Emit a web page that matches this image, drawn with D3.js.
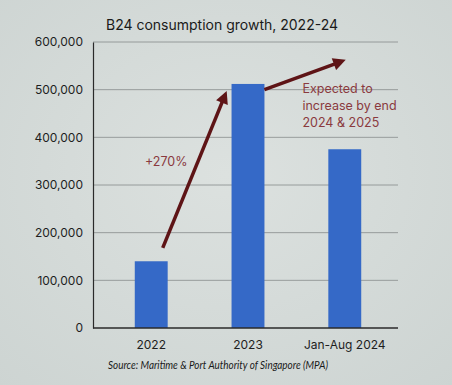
<!DOCTYPE html>
<html>
<head>
<meta charset="utf-8">
<script src="https://cdn.jsdelivr.net/npm/d3@7"></script>
<style>
  body { margin: 0; background: #d4dad8; }
  svg { display: block; }
</style>
</head>
<body>
<svg id="chart"></svg>
<script>
// Chart data
const categories = ['2022', '2023', 'Jan-Aug 2024'];
const consumption = [140000, 512000, 375000];
const yTicks = [0, 100000, 200000, 300000, 400000, 500000, 600000];

// Annotation arrows, given in data terms (category + offset in bands, value)
const arrows = [
  { from: { cat: '2022', off: 0.35, value: 168000 }, to: { cat: '2023', off: -0.72, value: 485000 } },
  { from: { cat: '2023', off: 0.5, value: 500000 }, to: { cat: 'Jan-Aug 2024', off: -0.15, value: 558000 } }
];
const growthLabel = '+270%';
const expectedLines = ['Expected to', 'increase by end', '2024 & 2025'];

const W = 452, H = 385;
const margin = { top: 42, right: 54, bottom: 57, left: 93 };

const svg = d3.select('#chart').attr('width', W).attr('height', H);

// Background, slightly uneven like the projected slide
const defs = svg.append('defs');
const grad = defs.append('radialGradient').attr('id', 'bg').attr('cx', '50%').attr('cy', '45%').attr('r', '75%');
grad.append('stop').attr('offset', '0%').attr('stop-color', '#dce1df');
grad.append('stop').attr('offset', '100%').attr('stop-color', '#cdd4d2');
svg.append('rect').attr('width', W).attr('height', H).attr('fill', 'url(#bg)');

defs.append('marker')
  .attr('id', 'head')
  .attr('viewBox', '0 0 10 10')
  .attr('refX', 5).attr('refY', 5)
  .attr('markerWidth', 4).attr('markerHeight', 3.6)
  .attr('orient', 'auto')
  .append('path')
  .attr('d', 'M0,0 L10,5 L0,10 z')
  .attr('fill', '#5e1416');

const x = d3.scaleBand()
  .domain(categories)
  .range([margin.left + 5, W - margin.right])
  .paddingInner(0.66)
  .paddingOuter(0.38);

const y = d3.scaleLinear()
  .domain([0, 600000])
  .range([H - margin.bottom, margin.top]);

// Gridlines
svg.append('g')
  .selectAll('line')
  .data(yTicks.filter(d => d > 0))
  .join('line')
  .attr('x1', margin.left)
  .attr('x2', W - margin.right)
  .attr('y1', d => y(d))
  .attr('y2', d => y(d))
  .attr('stroke', '#868c8b')
  .attr('stroke-width', 0.8);

// Y axis
const yAxis = svg.append('g')
  .attr('transform', `translate(${margin.left},0)`)
  .call(d3.axisLeft(y).tickValues(yTicks).tickFormat(d3.format(',')).tickSize(0).tickPadding(10));
yAxis.select('.domain').attr('stroke', '#2a2a2a').attr('stroke-width', 1.2);
yAxis.selectAll('text')
  .attr('font-family', 'Inter, "Noto Sans", sans-serif')
  .attr('font-size', 12)
  .attr('fill', '#1e1e1e');

// Bars
svg.append('g')
  .selectAll('rect')
  .data(categories)
  .join('rect')
  .attr('x', d => x(d))
  .attr('width', x.bandwidth())
  .attr('y', (d, i) => y(consumption[i]))
  .attr('height', (d, i) => y(0) - y(consumption[i]))
  .attr('fill', '#3569c7');

// X axis
const xAxis = svg.append('g')
  .attr('transform', `translate(0,${y(0)})`)
  .call(d3.axisBottom(x).tickSize(0).tickPadding(12));
xAxis.select('.domain')
  .attr('d', `M${margin.left},0H${W - margin.right}`)
  .attr('stroke', '#2a2a2a').attr('stroke-width', 1.4);
xAxis.selectAll('text')
  .attr('font-family', 'Inter, "Noto Sans", sans-serif')
  .attr('font-size', 12)
  .attr('fill', '#1e1e1e');

// Arrows
const px = p => x(p.cat) + x.bandwidth() / 2 + p.off * x.bandwidth();
svg.append('g')
  .selectAll('line')
  .data(arrows)
  .join('line')
  .attr('x1', d => px(d.from))
  .attr('y1', d => y(d.from.value))
  .attr('x2', d => px(d.to))
  .attr('y2', d => y(d.to.value))
  .attr('stroke', '#5e1416')
  .attr('stroke-width', 3.5)
  .attr('marker-end', 'url(#head)');

// Annotations
svg.append('text')
  .attr('x', x('2022') + x.bandwidth() / 2 + 15)
  .attr('y', y(340000))
  .attr('text-anchor', 'middle')
  .attr('font-family', 'Inter, "Noto Sans", sans-serif')
  .attr('font-size', 12.5)
  .attr('fill', '#8a3a3e')
  .text(growthLabel);

svg.append('text')
  .attr('font-family', 'Inter, "Noto Sans", sans-serif')
  .attr('font-size', 12.5)
  .attr('fill', '#8a3a3e')
  .selectAll('tspan')
  .data(expectedLines)
  .join('tspan')
  .attr('x', x('2023') + x.bandwidth() + 38)
  .attr('y', (d, i) => y(493000) + i * 17)
  .text(d => d);

// Title
svg.append('text')
  .attr('x', 222)
  .attr('y', 30)
  .attr('text-anchor', 'middle')
  .attr('font-family', 'Inter, "Noto Sans", sans-serif')
  .attr('font-size', 14)
  .attr('fill', '#1a1a1a')
  .text('B24 consumption growth, 2022-24');

// Source
svg.append('text')
  .attr('x', 218)
  .attr('y', 369)
  .attr('text-anchor', 'middle')
  .attr('font-family', 'Lato, "Open Sans", sans-serif')
  .attr('font-style', 'italic')
  .attr('font-size', 11.5)
  .attr('textLength', 220)
  .attr('lengthAdjust', 'spacingAndGlyphs')
  .attr('fill', '#1a1a1a')
  .text('Source: Maritime & Port Authority of Singapore (MPA)');
</script>
</body>
</html>
